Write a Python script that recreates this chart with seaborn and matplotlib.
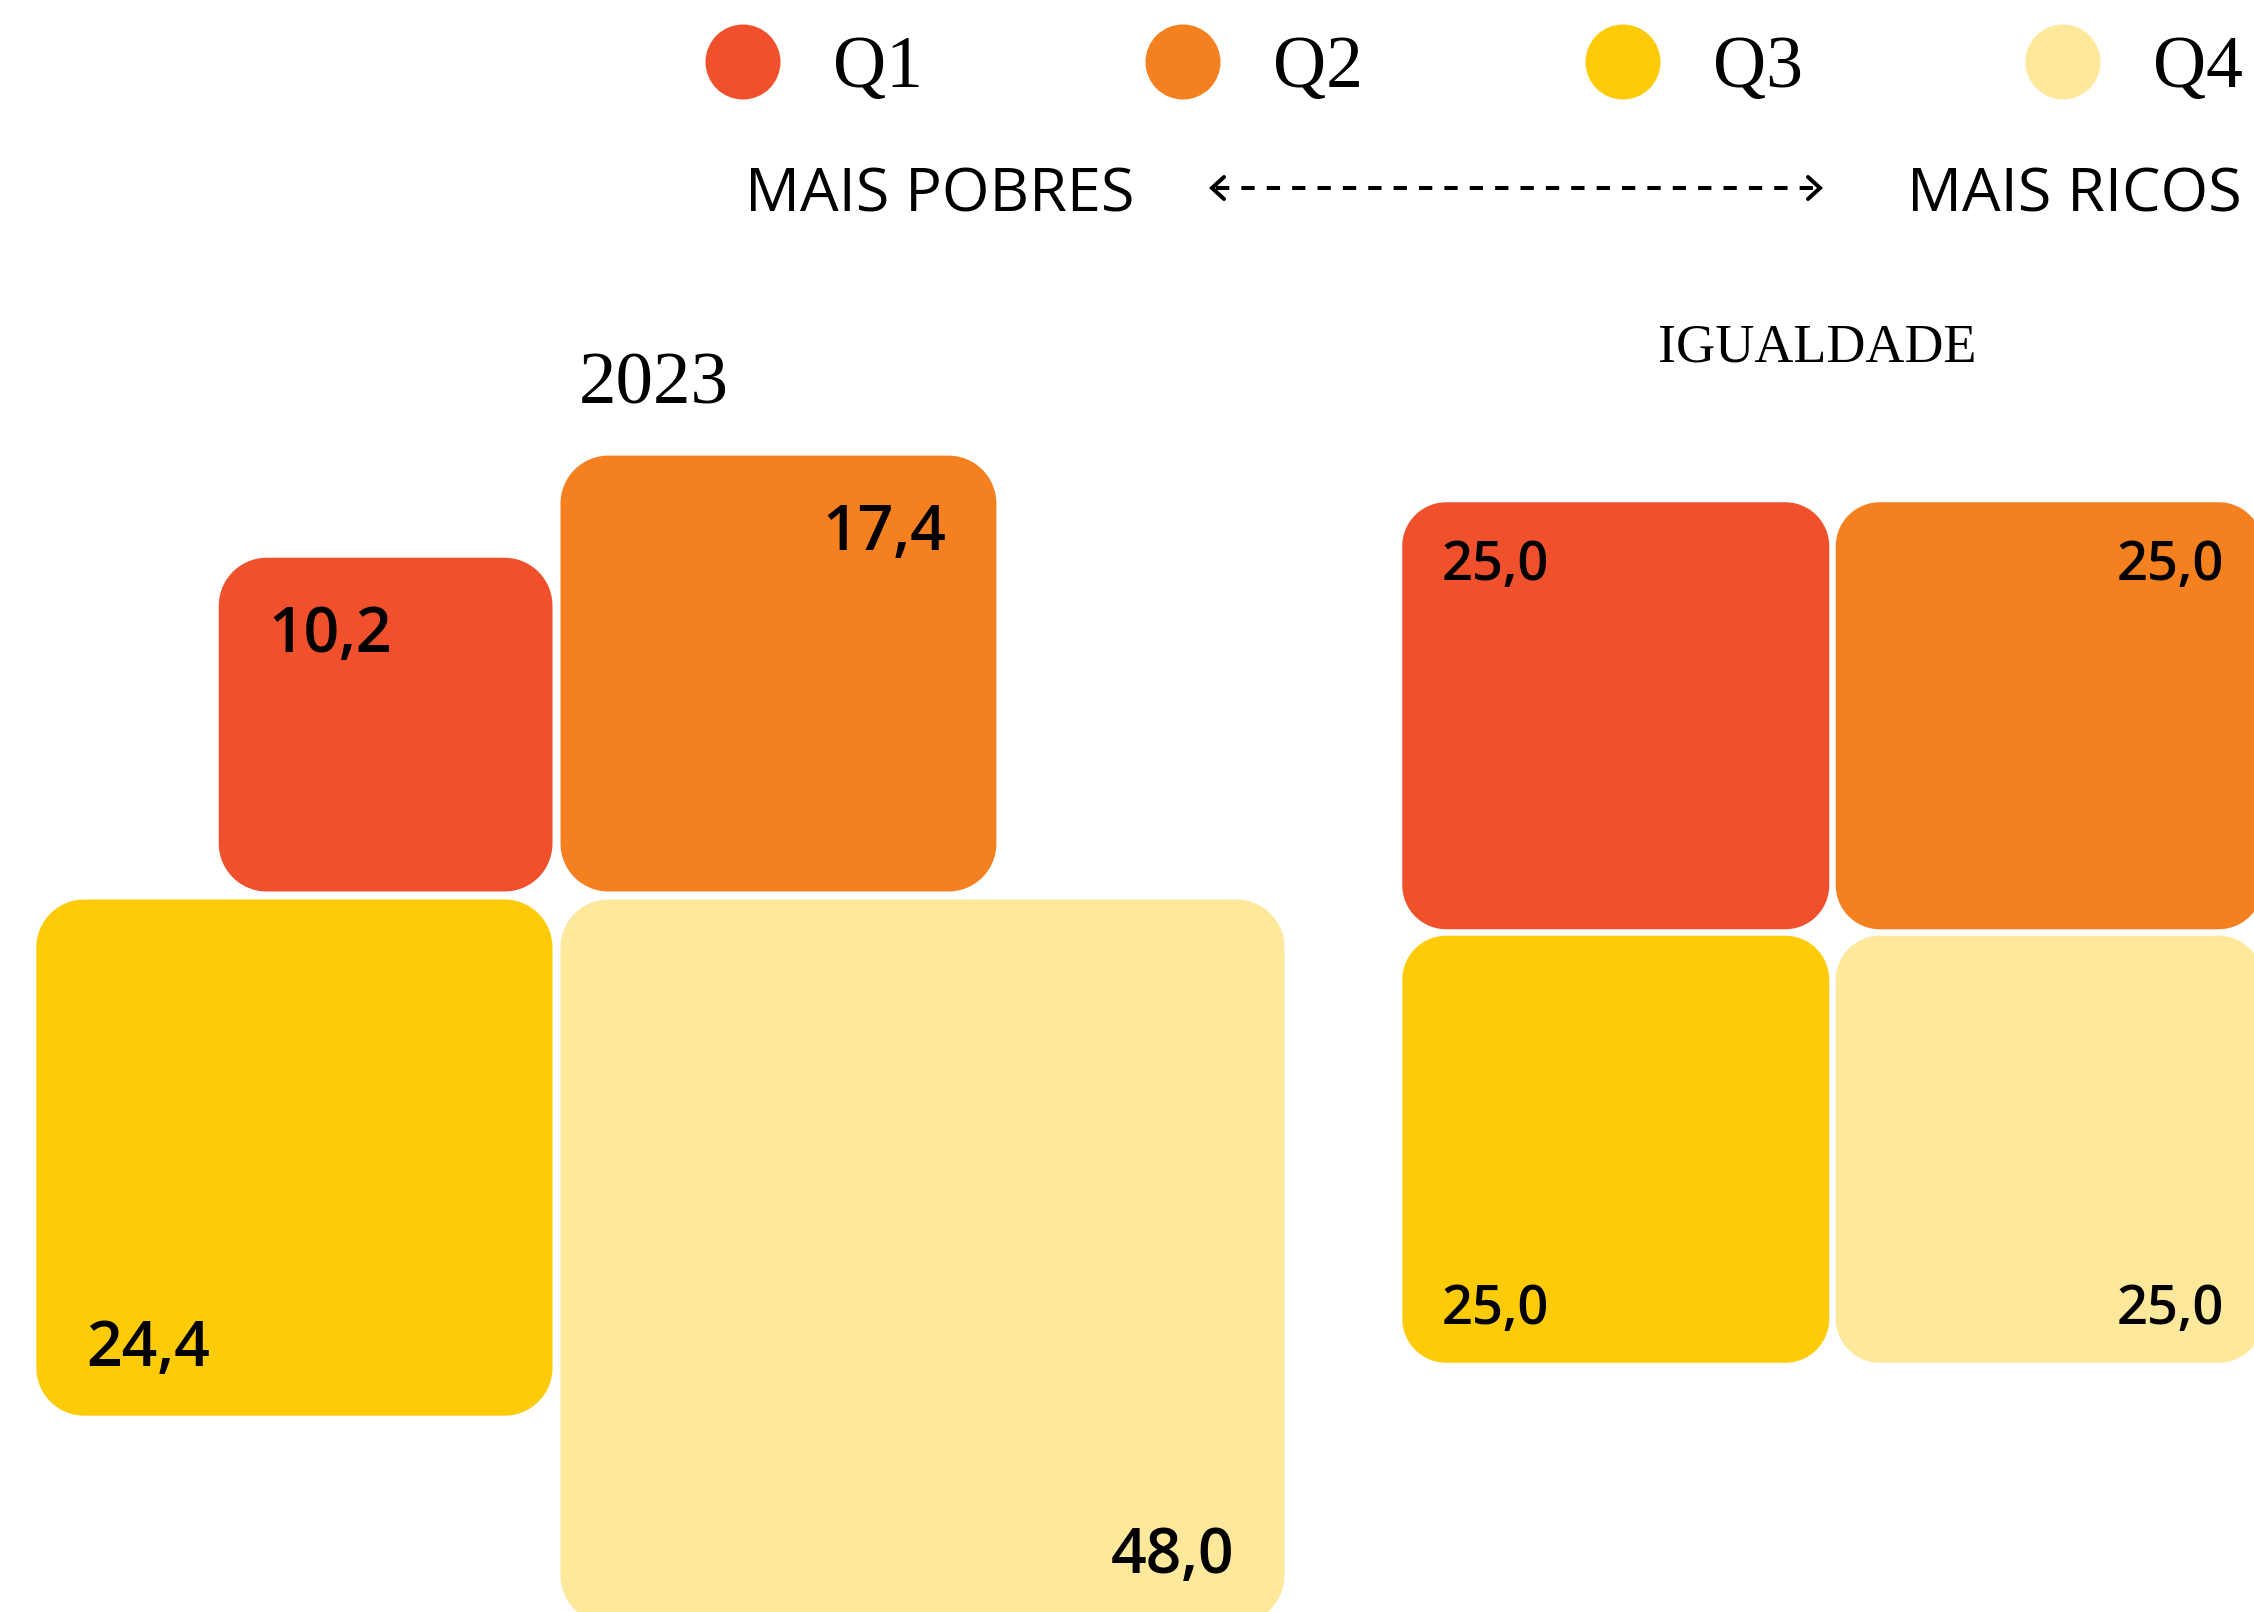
import numpy as np
import pandas as pd
import matplotlib
matplotlib.use("Agg")
import matplotlib.pyplot as plt
from matplotlib.patches import Polygon
import seaborn as sns

# ---------------- data ----------------
quintis = ["Q1", "Q2", "Q3", "Q4"]
valores_2023 = [10.2, 17.4, 24.4, 48.0]
valores_igualdade = [25.0, 25.0, 25.0, 25.0]
cores = ["#F0502B", "#F5801F", "#FECB08", "#FEE89C"]
titulo_2023 = "2023"
titulo_igualdade = "IGUALDADE"
rotulo_pobres = "MAIS POBRES"
rotulo_ricos = "MAIS RICOS"

sns.set_theme(style="white")
plt.rcParams["font.family"] = ["Open Sans", "DejaVu Sans"]

W, H = 2254, 1612
fig = plt.figure(figsize=(W / 100, H / 100), dpi=100)
ax = fig.add_axes([0, 0, 1, 1])

SERIF = ["Liberation Serif", "DejaVu Serif"]
SANS = ["Open Sans", "DejaVu Sans"]

# ---------------- legend (seaborn scatter) ----------------
leg = pd.DataFrame({"quintil": quintis,
                    "x": [743 + 440 * i for i in range(len(quintis))],
                    "y": [62] * len(quintis)})
sns.scatterplot(data=leg, x="x", y="y", hue="quintil", palette=cores,
                s=54 ** 2, linewidth=0, legend=False, ax=ax, zorder=3)
for _, r in leg.iterrows():
    ax.text(r["x"] + 90, 87, r["quintil"], family=SERIF, fontsize=53,
            ha="left", va="baseline", color="black")

ax.set_xlim(0, W)
ax.set_ylim(H, 0)
ax.axis("off")

# header: poorest <---> richest
ax.text(745, 212, rotulo_pobres, family=SANS, fontsize=44, ha="left",
        va="baseline", color="black")
ax.text(2242, 212, rotulo_ricos, family=SANS, fontsize=44, ha="right",
        va="baseline", color="black")
ya = 188
ax.plot([1216, 1816], [ya, ya], color="black", lw=2.9,
        linestyle=(0, (3.3, 3.0)), solid_capstyle="butt")
ax.plot([1224, 1212, 1224], [ya - 11, ya, ya + 11], color="black", lw=2.9,
        solid_joinstyle="miter")
ax.plot([1808, 1820, 1808], [ya - 11, ya, ya + 11], color="black", lw=2.9,
        solid_joinstyle="miter")


def fmt(v):
    return f"{v:.1f}".replace(".", ",")


def rounded_square(x0, y0, s, r, n=24):
    t = np.linspace(0, np.pi / 2, n)
    pts = []
    # corners: (center, start angle) in a y-down frame
    for cx, cy, a0 in [(x0 + s - r, y0 + r, -np.pi / 2),
                       (x0 + s - r, y0 + s - r, 0.0),
                       (x0 + r, y0 + s - r, np.pi / 2),
                       (x0 + r, y0 + r, np.pi)]:
        a = a0 + t
        pts.append(np.column_stack([cx + r * np.cos(a), cy + r * np.sin(a)]))
    return np.vstack(pts)


def draw_panel(values, px, py, k, gap, radius, pad, fs):
    cap = 0.714 * fs * 100 / 72
    for i, v in enumerate(values):
        s = k * np.sqrt(v)
        is_left = i in (0, 2)
        is_top = i in (0, 1)
        x0 = px - gap / 2 - s if is_left else px + gap / 2
        y0 = py - gap / 2 - s if is_top else py + gap / 2
        ax.add_patch(Polygon(rounded_square(x0, y0, s, radius), closed=True,
                             fc=cores[i], ec="none", zorder=2))
        tx = x0 + pad if is_left else x0 + s - pad
        ty = y0 + pad + cap if is_top else y0 + s - pad
        ax.text(tx, ty, fmt(v), family=SANS, fontsize=fs, fontweight="semibold",
                ha="left" if is_left else "right", va="baseline",
                color="black", zorder=4)


draw_panel(valores_2023, px=556.5, py=895.5, k=104.5, gap=8, radius=48,
           pad=50, fs=45)
draw_panel(valores_igualdade, px=1832.5, py=932.5, k=85.4, gap=6.5,
           radius=44, pad=39, fs=39)

ax.text(654, 404, titulo_2023, family=SERIF, fontsize=54, ha="center",
        va="baseline", color="black")
ax.text(1817, 361, titulo_igualdade, family=SERIF, fontsize=39, ha="center",
        va="baseline", color="black")

fig.savefig("out.png", dpi=100, facecolor="white")
